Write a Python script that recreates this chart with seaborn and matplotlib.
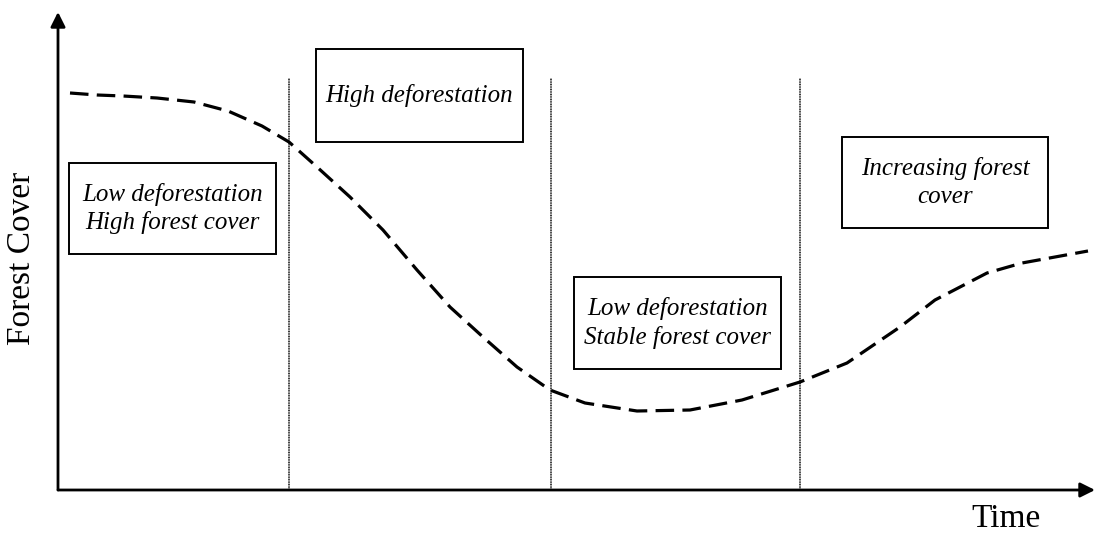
import matplotlib
matplotlib.use("Agg")
import matplotlib.pyplot as plt
from matplotlib.patches import Rectangle
import seaborn as sns
import pandas as pd

# curve (time vs forest cover, arbitrary units)
time = [1.2, 3.9, 6.5, 9.9, 13.6, 17.0, 20.4, 23.1, 25.9, 29.2, 32.5, 35.9, 39.2, 42.5,
        45.9, 49.2, 52.7, 57.9, 63.2, 68.4, 74.2, 78.9, 84.2, 87.7, 92.9, 96.4, 103.0]
cover = [39.7, 39.5, 39.4, 39.2, 38.8, 37.9, 36.4, 34.8, 32.3, 29.3, 26.0, 22.0, 18.3, 15.3,
         12.3, 10.0, 8.7, 7.9, 8.0, 9.0, 10.8, 12.7, 16.3, 19.0, 21.7, 22.7, 23.9]

phase_bounds = [23.1, 49.3, 74.2]
phase_top = 41.2

labels = ["Low deforestation\nHigh forest cover",
          "High deforestation",
          "Low deforestation\nStable forest cover",
          "Increasing forest\ncover"]
# box corners (left, bottom, right, top) in data units
boxes = [(1.1, 23.6, 21.8, 32.7),
         (25.8, 34.8, 46.5, 44.1),
         (51.6, 12.1, 72.3, 21.3),
         (78.4, 26.2, 99.0, 35.3)]

sns.set_style("white")
plt.rcParams['font.family'] = ['Liberation Serif', 'DejaVu Serif']

W, H = 1095, 534
fig = plt.figure(figsize=(W / 100, H / 100), dpi=100)
ax = fig.add_axes([58 / W, (H - 490) / H, (W - 58) / W, (490 - 12) / H])
ax.set_xlim(0, 103.7)
ax.set_ylim(0, 47.8)

df = pd.DataFrame({"Time": time, "Forest Cover": cover})
sns.lineplot(data=df, x="Time", y="Forest Cover", ax=ax, color="black",
             lw=2.3, linestyle=(0, (5.8, 2.6)), sort=False, clip_on=False)

for b in phase_bounds:
    ax.plot([b, b], [0, phase_top], color="black", lw=1.1, linestyle=(0, (0.7, 0.4)))

for lab, (x0, y0, x1, y1) in zip(labels, boxes):
    ax.add_patch(Rectangle((x0, y0), x1 - x0, y1 - y0, fill=False,
                           edgecolor="black", lw=1.4, zorder=3))
    ax.text((x0 + x1) / 2, (y0 + y1) / 2, lab, ha="center", va="center",
            fontsize=18, style="italic", linespacing=1.3, color="black", zorder=4)

for s in ax.spines.values():
    s.set_visible(False)
ax.set_xticks([])
ax.set_yticks([])
ax.set_xlabel("")
ax.set_ylabel("")

arrow = dict(arrowstyle="-|>", lw=2, color="black", mutation_scale=22, shrinkA=0, shrinkB=0)
ax.annotate("", xy=(0, 1), xytext=(0, 0), xycoords="axes fraction", arrowprops=arrow)
ax.annotate("", xy=(1, 0), xytext=(0, 0), xycoords="axes fraction", arrowprops=arrow)

fig.text(22 / W, 1 - 258 / H, "Forest Cover", rotation=90, ha="center", va="center",
         fontsize=24, color="black")
fig.text(1006 / W, 1 - 519 / H, "Time", ha="center", va="center", fontsize=24, color="black")

fig.savefig("out.png", dpi=100)
